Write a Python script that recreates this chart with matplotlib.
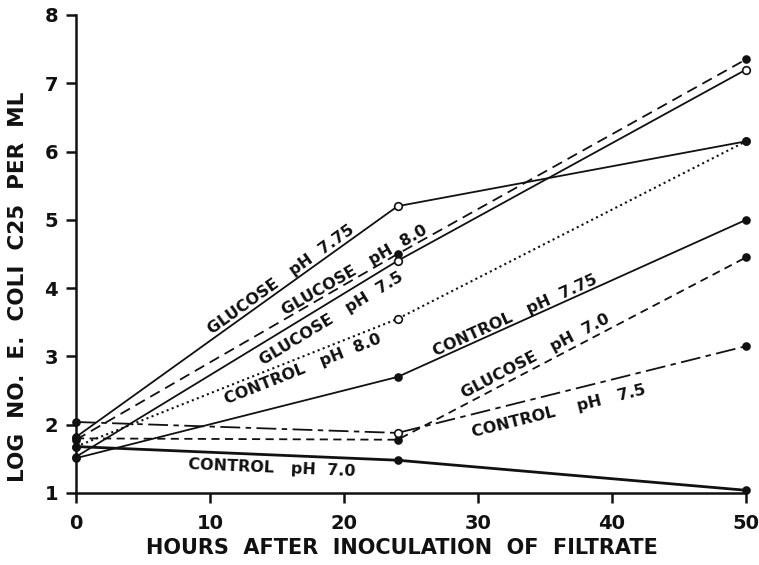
import matplotlib
matplotlib.use('Agg')
import matplotlib.pyplot as plt
import numpy as np

# hours after inoculation, log count per ml
hours = [0, 24, 50]
glucose_775 = [1.82, 5.2, 6.15]
glucose_80 = [1.78, 4.5, 7.35]
glucose_75 = [1.53, 4.4, 7.2]
control_80 = [1.68, 3.55, 6.15]
control_775 = [1.51, 2.7, 5.0]
glucose_70 = [1.8, 1.78, 4.45]
control_75 = [2.04, 1.88, 3.15]
control_70 = [1.68, 1.48, 1.04]

labels = ['GLUCOSE   pH  7.75', 'GLUCOSE   pH  8.0', 'GLUCOSE   pH  7.5',
          'CONTROL   pH  8.0', 'CONTROL   pH  7.75', 'GLUCOSE   pH  7.0',
          'CONTROL    pH   7.5', 'CONTROL   pH  7.0']

x_ticks = [0, 10, 20, 30, 40, 50]
y_ticks = [1, 2, 3, 4, 5, 6, 7, 8]

ink = '#111111'
font = 'DejaVu Sans'

# (values, linestyle, linewidth, open marker per point, label pos, label segment)
series = [
	(glucose_775, '-', 1.3, [False, True, False], (15.3, 4.12), 0),
	(glucose_80, (0, (6, 3.5)), 1.3, [False, False, False], (20.8, 4.26), 0),
	(glucose_75, '-', 1.3, [False, True, True], (19.1, 3.55), 0),
	(control_80, (0, (1, 1.6)), 1.5, [False, True, False], (16.9, 2.82), 0),
	(control_775, '-', 1.3, [False, False, False], (32.8, 3.60), 1),
	(glucose_70, (0, (4.5, 3)), 1.3, [False, False, False], (34.3, 3.0), 1),
	(control_75, (0, (11, 3, 3, 3)), 1.3, [False, True, False], (36.0, 2.20), 1),
	(control_70, '-', 2.0, [False, False, False], (14.6, 1.37), 0),
]

fig = plt.figure(figsize=(7.59, 5.65), dpi=100)
ax = fig.add_axes([76/759, 1-493/565, 670/759, 478/565])
ax.set_xlim(0, 50)
ax.set_ylim(1, 8)

for i, (vals, ls, lw, opn, pos, seg) in enumerate(series):
	ax.plot(hours, vals, linestyle=ls, linewidth=lw, color=ink, clip_on=False,
			solid_capstyle='round', zorder=2)
	for h, v, o in zip(hours, vals, opn):
		ax.plot(h, v, marker='o', markersize=5.5 if o else 5,
				markerfacecolor='white' if o else ink, markeredgecolor=ink,
				markeredgewidth=1.2, clip_on=False, zorder=3)
	dx = hours[seg+1] - hours[seg]
	dy = vals[seg+1] - vals[seg]
	ang = np.degrees(np.arctan2(dy, dx))
	ax.text(pos[0], pos[1], labels[i], rotation=ang, transform_rotates_text=True,
			rotation_mode='anchor', ha='center', va='center', fontsize=11.5,
			fontweight='bold', family=font, color=ink)

for s in ['top', 'right']:
	ax.spines[s].set_visible(False)
for s in ['left', 'bottom']:
	ax.spines[s].set_linewidth(1.8)
	ax.spines[s].set_color(ink)

ax.set_xticks(x_ticks)
ax.set_yticks(y_ticks)
ax.tick_params(direction='out', length=7, width=1.8, color=ink,
			   labelsize=14, labelcolor=ink)
ax.tick_params(axis='x', pad=8)
ax.tick_params(axis='y', pad=6)
for lab in ax.get_xticklabels() + ax.get_yticklabels():
	lab.set_fontweight('bold')
	lab.set_family(font)

fig.text(402/759, 1-548/565, 'HOURS  AFTER  INOCULATION  OF  FILTRATE',
		 ha='center', va='center', fontsize=15, fontweight='bold', family=font, color=ink)
fig.text(18/759, 1-287/565, 'LOG  NO.  E.  COLI  C25  PER  ML', rotation=90,
		 ha='center', va='center', fontsize=15.5, fontweight='bold', family=font, color=ink)

fig.savefig('out.png', dpi=100)
